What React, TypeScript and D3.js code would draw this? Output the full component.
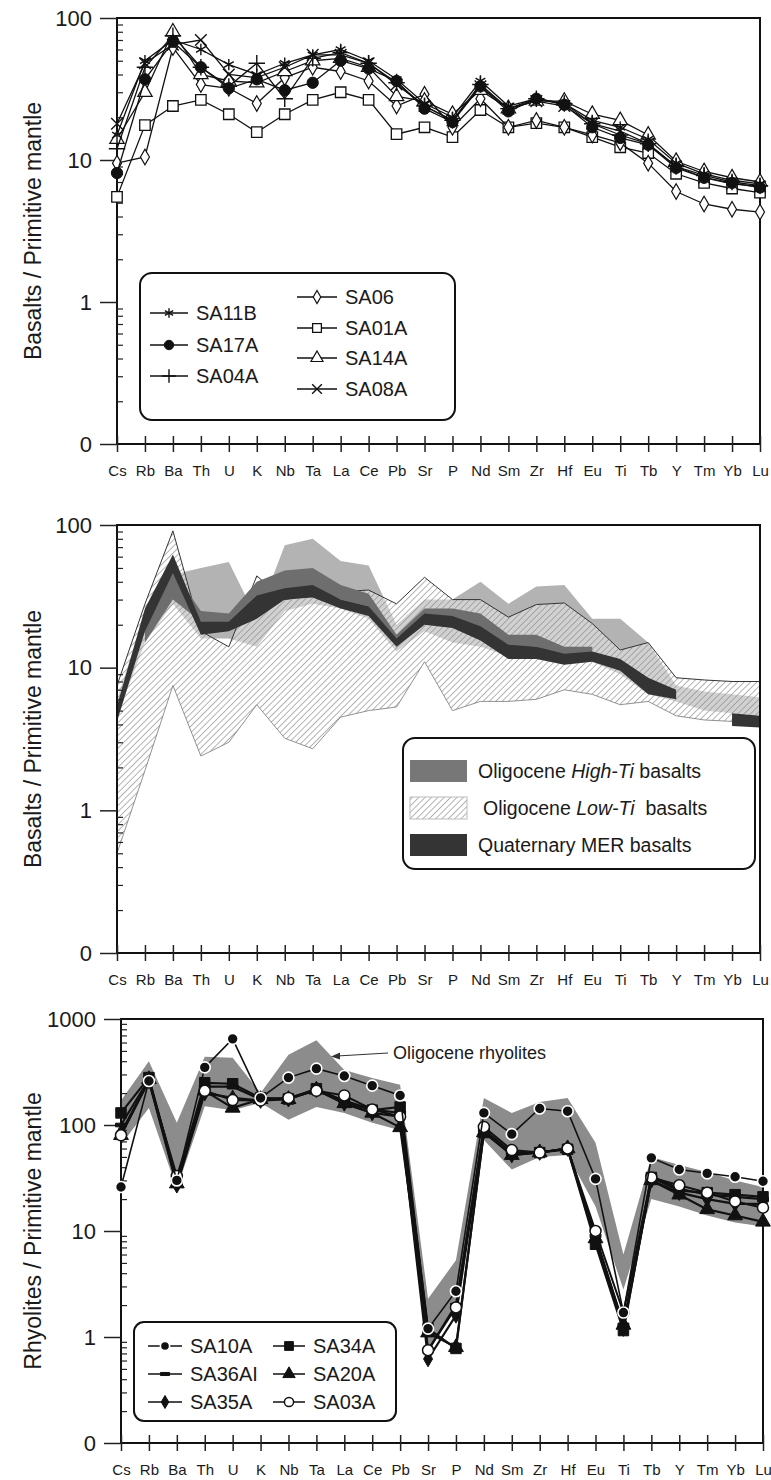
import React, { useEffect, useRef } from 'react';
import * as d3 from 'd3';

const FONT = "'Liberation Sans', Arial, Helvetica, sans-serif";

const elements = ['Cs', 'Rb', 'Ba', 'Th', 'U', 'K', 'Nb', 'Ta', 'La', 'Ce', 'Pb', 'Sr', 'P', 'Nd', 'Sm', 'Zr', 'Hf', 'Eu', 'Ti', 'Tb', 'Y', 'Tm', 'Yb', 'Lu'];

// ---- panel 1 : basalts ----
const sa11b = [15, 50, 70, 60, 47, 40, 48, 55, 60, 50, 37, 25, 20, 36, 24, 27, 25, 19, 17, 14, 9.5, 8, 7.2, 6.8];
const sa17a = [8.1, 37, 68, 45, 32, 37, 31, 35, 50, 44, 36, 23, 18.5, 33, 22, 27, 24.5, 17, 14.3, 12.8, 8.8, 7.5, 6.9, 6.4];
const sa04a = [12, 45, 75, 45, 33, 48, 27, 52, 57, 48, 35, 24, 19, 34, 23, 27, 25, 18, 15, 13, 9, 7.8, 7, 6.6];
const sa06 = [9.5, 10.5, 62, 34, 32, 25, 38, 45, 42, 36, 24, 29, 17, 27, 17, 19, 17, 15, 13.2, 9.5, 6, 4.9, 4.5, 4.3];
const sa01a = [5.5, 17.6, 24, 26.5, 21, 15.7, 21, 26.5, 30, 26.5, 15.2, 17, 14.5, 22.5, 17, 18.2, 17, 14.5, 12.3, 11.2, 8, 6.9, 6.3, 5.9];
const sa14a = [14, 30, 80, 40, 36, 35, 42, 50, 52, 45, 28, 26, 21, 31, 23, 26, 26, 21, 19, 15, 9.8, 8.3, 7.5, 7.0];
const sa08a = [18, 48, 65, 70, 40, 38, 45, 55, 55, 48, 34, 24, 19, 33, 23, 26, 24, 18, 16, 13, 9, 7.5, 6.8, 6.5];

// ---- panel 2 : fields ----
const lowTiTop = [7.5, 28, 91, 18, 14, 44, 30, 32, 34, 35, 28, 43, 30, 30, 22.6, 27.7, 28.4, 20.4, 13.3, 15, 8.5, 8.2, 8, 8];
const lowTiBottom = [0.5, 1.9, 7.5, 2.4, 3, 5.5, 3.2, 2.7, 4.5, 5, 5.3, 11, 5, 5.8, 5.8, 6, 7, 6.5, 5.5, 5.8, 4.6, 4.3, 4.2, 4.1];
const hiTiTop = [6, 24, 45, 50, 55, 22, 72, 80, 56, 52, 20, 30, 30, 40, 28, 37, 38, 22, 22, 15, 7.5, 6.8, 6.5, 6.2];
const hiTiBottom = [4.5, 15, 28, 16, 16, 14, 25, 28, 26, 22, 13, 18, 15, 14, 12, 13, 12, 11, 9, 6.5, 5.8, 5, 4.8, 4.6];
const hiCoreTop = [null, 22, 48, 25, 24, 40, 48, 50, 38, 33, 17, 26, 26, 24, 17, 17, 14, 14, null, null, null, null, null, null];
const hiCoreBottom = [null, 15, 30, 21, 20, 26, 34, 36, 30, 27, 15, 22, 22, 19, 14, 14, 12, 12, null, null, null, null, null, null];
const merTop = [5.4, 26, 62, 21, 21, 32, 36, 38, 30, 27, 16, 24, 23, 19.5, 14.5, 14, 12.5, 13, 11.5, 8.5, 7, null, 4.8, 4.6];
const merBottom = [4.2, 18, 46, 17, 18, 22, 30, 31, 26, 23, 14, 20, 19, 15.5, 11.5, 11.5, 10.5, 11, 9.5, 6.5, 6, null, 3.9, 3.8];

// ---- panel 3 : rhyolites ----
const sa10a = [26, 260, 30, 350, 650, 180, 280, 340, 290, 235, 190, 1.2, 2.7, 130, 82, 143, 135, 31, 1.7, 49, 38, 35, 32.5, 29.5];
const sa36ai = [100, 270, 30, 230, 230, 175, 180, 215, 170, 140, 130, 0.75, 2.0, 90, 55, 55, 60, 9, 1.3, 33, 25, 22, 21, 20];
const sa35a = [85, 260, 27, 200, 180, 170, 175, 215, 160, 130, 120, 0.62, 1.6, 88, 52, 55, 60, 8, 1.2, 30, 23, 20, 18, 18];
const sa34a = [130, 280, 30, 250, 245, 180, 176, 220, 165, 138, 148, 1.2, 0.78, 85, 55, 55, 59, 7.5, 1.15, 32, 24, 23, 22, 21];
const sa20a = [80, 270, 28, 210, 145, 175, 175, 215, 160, 130, 95, 1.1, 0.8, 85, 52, 55, 60, 8.5, 1.3, 30, 22, 16, 14, 12.2];
const sa03a = [80, 260, 33, 210, 172, 170, 180, 210, 190, 140, 120, 0.75, 1.9, 96, 58, 55, 60, 10, 1.7, 32, 27, 23, 19, 16.6];
const rhyTop = [170, 400, 105, 440, 430, 200, 460, 630, 330, 277, 240, 2.3, 5.3, 180, 130, 165, 180, 68, 6, 50, 42, 36, 30, 26];
const rhyBottom = [65, 145, 25, 150, 138, 162, 112, 148, 130, 105, 89, 0.7, 2.0, 72, 38, 50, 52, 17, 2.8, 20, 17, 14, 12, 11];

const barSymbol = {
  draw(ctx, size) {
    const w = Math.sqrt(size) * 1.3;
    ctx.rect(-w / 2, -w / 6, w, w / 3);
  },
};

const drawAxes = (g, x, y, majors, title) => {
  const [x0, x1] = x.range();
  const [yb, yt] = y.range();

  g.append('rect')
    .attr('x', x0)
    .attr('y', yt)
    .attr('width', x1 - x0)
    .attr('height', yb - yt)
    .attr('fill', 'none')
    .attr('stroke', '#111')
    .attr('stroke-width', 2);

  const minors = [];
  for (let k = 0; k < majors.length - 1; k++) {
    for (let m = 2; m <= 9; m++) minors.push(majors[k] * m);
  }
  const minorAxis = g
    .append('g')
    .attr('transform', `translate(${x0},0)`)
    .call(d3.axisLeft(y).tickValues(minors).tickSize(-6).tickSizeOuter(0).tickFormat(() => ''));
  minorAxis.select('.domain').remove();
  minorAxis.selectAll('line').attr('stroke', '#222').attr('stroke-width', 1.2);

  const majorAxis = g
    .append('g')
    .attr('transform', `translate(${x0},0)`)
    .call(
      d3
        .axisLeft(y)
        .tickValues(majors)
        .tickSize(17)
        .tickSizeOuter(0)
        .tickPadding(8)
        .tickFormat(d => (d < 1 ? '0' : String(d))),
    );
  majorAxis.select('.domain').remove();
  majorAxis.selectAll('line').attr('stroke', '#222').attr('stroke-width', 1.5);
  majorAxis
    .selectAll('text')
    .attr('font-family', FONT)
    .attr('font-size', 22)
    .attr('fill', '#1a1a1a');

  const xAxis = g
    .append('g')
    .attr('transform', `translate(0,${yb})`)
    .call(d3.axisBottom(x).tickSize(8).tickSizeOuter(0));
  xAxis.select('.domain').remove();
  xAxis.selectAll('line').attr('y1', -8).attr('stroke', '#222').attr('stroke-width', 1.5);
  xAxis
    .selectAll('text')
    .attr('y', 21)
    .attr('font-family', FONT)
    .attr('font-size', 15)
    .attr('fill', '#1a1a1a');

  g.append('text')
    .attr('transform', `translate(33,${(yb + yt) / 2}) rotate(-90)`)
    .attr('text-anchor', 'middle')
    .attr('dominant-baseline', 'central')
    .attr('font-family', FONT)
    .attr('font-size', 23)
    .attr('fill', '#1a1a1a')
    .text(title);
};

const drawSeries = (g, x, y, values, mk) => {
  const line = d3
    .line()
    .x((d, i) => x(elements[i]))
    .y(d => y(d));
  g.append('path')
    .attr('d', line(values))
    .attr('fill', 'none')
    .attr('stroke', '#111')
    .attr('stroke-width', mk.lw);
  g.selectAll(null)
    .data(values)
    .enter()
    .append('path')
    .attr('transform', (d, i) => `translate(${x(elements[i])},${y(d)})`)
    .attr('d', d3.symbol().type(mk.type).size(mk.size)())
    .attr('fill', mk.fill)
    .attr('stroke', mk.stroke)
    .attr('stroke-width', mk.sw);
};

const legendEntry = (g, x1, x2, y, label, mk, fontSize) => {
  g.append('line')
    .attr('x1', x1)
    .attr('x2', x2)
    .attr('y1', y)
    .attr('y2', y)
    .attr('stroke', '#111')
    .attr('stroke-width', 1.5);
  g.append('path')
    .attr('transform', `translate(${(x1 + x2) / 2},${y})`)
    .attr('d', d3.symbol().type(mk.type).size(mk.size * 0.7)())
    .attr('fill', mk.fill)
    .attr('stroke', mk.stroke)
    .attr('stroke-width', mk.sw);
  g.append('text')
    .attr('x', x2 + 8)
    .attr('y', y)
    .attr('dominant-baseline', 'central')
    .attr('font-family', FONT)
    .attr('font-size', fontSize)
    .attr('fill', '#1a1a1a')
    .text(label);
};

const App = () => {
  const ref = useRef(null);

  useEffect(() => {
    const svg = d3.select(ref.current);
    svg.selectAll('*').remove();

    const defs = svg.append('defs');
    const hatch = defs
      .append('pattern')
      .attr('id', 'hatch')
      .attr('patternUnits', 'userSpaceOnUse')
      .attr('width', 4.5)
      .attr('height', 4.5)
      .attr('patternTransform', 'rotate(45)');
    hatch.append('rect').attr('width', 4.5).attr('height', 4.5).attr('fill', '#fff').attr('fill-opacity', 0.4);
    hatch.append('line').attr('x1', 0).attr('y1', 0).attr('x2', 0).attr('y2', 4.5).attr('stroke', '#8a8a8a').attr('stroke-width', 1.3);

    // ---------------- panel 1 ----------------
    const x1 = d3.scalePoint().domain(elements).range([117, 760]);
    const y1 = d3.scaleLog().domain([0.1, 100]).range([444, 18]);
    const g1 = svg.append('g');
    drawAxes(g1, x1, y1, [0.1, 1, 10, 100], 'Basalts / Primitive mantle');

    const mk1 = {
      SA11B: { type: d3.symbolAsterisk, size: 90, fill: 'none', stroke: '#111', sw: 1.4, lw: 1.3 },
      SA17A: { type: d3.symbolCircle, size: 100, fill: '#111', stroke: '#111', sw: 1, lw: 1.3 },
      SA04A: { type: d3.symbolPlus, size: 90, fill: 'none', stroke: '#111', sw: 1.4, lw: 1.3 },
      SA06: { type: d3.symbolDiamond, size: 70, fill: '#fff', stroke: '#111', sw: 1.2, lw: 1.3 },
      SA01A: { type: d3.symbolSquare, size: 110, fill: '#fff', stroke: '#111', sw: 1.3, lw: 1.3 },
      SA14A: { type: d3.symbolTriangle, size: 90, fill: '#fff', stroke: '#111', sw: 1.2, lw: 1.3 },
      SA08A: { type: d3.symbolTimes, size: 90, fill: 'none', stroke: '#111', sw: 1.4, lw: 1.3 },
    };
    drawSeries(g1, x1, y1, sa01a, mk1.SA01A);
    drawSeries(g1, x1, y1, sa06, mk1.SA06);
    drawSeries(g1, x1, y1, sa14a, mk1.SA14A);
    drawSeries(g1, x1, y1, sa08a, mk1.SA08A);
    drawSeries(g1, x1, y1, sa04a, mk1.SA04A);
    drawSeries(g1, x1, y1, sa11b, mk1.SA11B);
    drawSeries(g1, x1, y1, sa17a, mk1.SA17A);

    g1.append('rect')
      .attr('x', 140)
      .attr('y', 273)
      .attr('width', 315)
      .attr('height', 147)
      .attr('rx', 12)
      .attr('fill', '#fff')
      .attr('stroke', '#111')
      .attr('stroke-width', 2);
    legendEntry(g1, 150, 188, 313, 'SA11B', mk1.SA11B, 20);
    legendEntry(g1, 150, 188, 345, 'SA17A', mk1.SA17A, 20);
    legendEntry(g1, 150, 188, 376, 'SA04A', mk1.SA04A, 20);
    legendEntry(g1, 297, 337, 297, 'SA06', mk1.SA06, 20);
    legendEntry(g1, 297, 337, 328, 'SA01A', mk1.SA01A, 20);
    legendEntry(g1, 297, 337, 358, 'SA14A', mk1.SA14A, 20);
    legendEntry(g1, 297, 337, 389, 'SA08A', mk1.SA08A, 20);

    // ---------------- panel 2 ----------------
    const x2 = d3.scalePoint().domain(elements).range([117, 760]);
    const y2 = d3.scaleLog().domain([0.1, 100]).range([953, 525]);
    const g2 = svg.append('g');

    const band = (top, bottom) =>
      d3
        .area()
        .defined((d, i) => top[i] != null && bottom[i] != null)
        .x((d, i) => x2(elements[i]))
        .y0((d, i) => y2(bottom[i]))
        .y1((d, i) => y2(top[i]))(elements);
    const edge = vals =>
      d3
        .line()
        .x((d, i) => x2(elements[i]))
        .y(d => y2(d))(vals);

    g2.append('path').attr('d', band(hiTiTop, hiTiBottom)).attr('fill', '#b3b3b3');
    g2.append('path').attr('d', band(lowTiTop, lowTiBottom)).attr('fill', 'url(#hatch)');
    g2.append('path').attr('d', edge(lowTiTop)).attr('fill', 'none').attr('stroke', '#333').attr('stroke-width', 1);
    g2.append('path').attr('d', edge(lowTiBottom)).attr('fill', 'none').attr('stroke', '#777').attr('stroke-width', 0.8);
    g2.append('path').attr('d', band(hiCoreTop, hiCoreBottom)).attr('fill', '#6e6e6e');
    g2.append('path').attr('d', band(merTop, merBottom)).attr('fill', '#343434');
    drawAxes(g2, x2, y2, [0.1, 1, 10, 100], 'Basalts / Primitive mantle');

    g2.append('rect')
      .attr('x', 403)
      .attr('y', 738)
      .attr('width', 352)
      .attr('height', 131)
      .attr('rx', 12)
      .attr('fill', '#fff')
      .attr('stroke', '#111')
      .attr('stroke-width', 2);
    const sw2 = [
      { y: 771, fill: '#777', pre: 'Oligocene ', it: 'High-Ti', post: ' basalts', tx: 478 },
      { y: 808, fill: 'url(#hatch)', pre: 'Oligocene ', it: 'Low-Ti', post: '  basalts', tx: 483 },
      { y: 845, fill: '#343434', pre: 'Quaternary MER basalts', it: '', post: '', tx: 478 },
    ];
    sw2.forEach(s => {
      g2.append('rect')
        .attr('x', 410)
        .attr('y', s.y - 11)
        .attr('width', 57)
        .attr('height', 22)
        .attr('fill', s.fill)
        .attr('stroke', s.fill === 'url(#hatch)' ? '#bbb' : 'none');
      const t = g2
        .append('text')
        .attr('x', s.tx)
        .attr('y', s.y)
        .attr('dominant-baseline', 'central')
        .attr('font-family', FONT)
        .attr('font-size', 19.5)
        .attr('fill', '#1a1a1a')
        .attr('xml:space', 'preserve');
      t.append('tspan').text(s.pre);
      if (s.it) t.append('tspan').attr('font-style', 'italic').text(s.it);
      if (s.post) t.append('tspan').text(s.post);
    });

    // ---------------- panel 3 ----------------
    const x3 = d3.scalePoint().domain(elements).range([121, 763]);
    const y3 = d3.scaleLog().domain([0.1, 1000]).range([1443, 1019]);
    const g3 = svg.append('g');

    g3.append('path')
      .attr(
        'd',
        d3
          .area()
          .x((d, i) => x3(elements[i]))
          .y0((d, i) => y3(rhyBottom[i]))
          .y1((d, i) => y3(rhyTop[i]))(elements),
      )
      .attr('fill', '#8c8c8c');
    drawAxes(g3, x3, y3, [0.1, 1, 10, 100, 1000], 'Rhyolites / Primitive mantle');

    const mk3 = {
      SA10A: { type: d3.symbolCircle, size: 95, fill: '#111', stroke: '#fff', sw: 1.6, lw: 1.6 },
      SA36AI: { type: barSymbol, size: 70, fill: '#111', stroke: '#111', sw: 1, lw: 2.2 },
      SA35A: { type: d3.symbolDiamond, size: 70, fill: '#111', stroke: '#111', sw: 1, lw: 2.2 },
      SA34A: { type: d3.symbolSquare, size: 110, fill: '#111', stroke: '#111', sw: 1, lw: 2.2 },
      SA20A: { type: d3.symbolTriangle, size: 95, fill: '#111', stroke: '#111', sw: 1, lw: 2.2 },
      SA03A: { type: d3.symbolCircle, size: 95, fill: '#fff', stroke: '#111', sw: 1.5, lw: 2 },
    };
    drawSeries(g3, x3, y3, sa35a, mk3.SA35A);
    drawSeries(g3, x3, y3, sa20a, mk3.SA20A);
    drawSeries(g3, x3, y3, sa36ai, mk3.SA36AI);
    drawSeries(g3, x3, y3, sa34a, mk3.SA34A);
    drawSeries(g3, x3, y3, sa03a, mk3.SA03A);
    drawSeries(g3, x3, y3, sa10a, mk3.SA10A);

    // label + arrow for the rhyolite field
    g3.append('line')
      .attr('x1', 388)
      .attr('y1', 1053)
      .attr('x2', 337)
      .attr('y2', 1056)
      .attr('stroke', '#333')
      .attr('stroke-width', 1.2);
    g3.append('path').attr('d', 'M331,1056.5 L340,1052.5 L340,1059.5 Z').attr('fill', '#333');
    g3.append('text')
      .attr('x', 393)
      .attr('y', 1053)
      .attr('dominant-baseline', 'central')
      .attr('font-family', FONT)
      .attr('font-size', 18)
      .attr('fill', '#1a1a1a')
      .text('Oligocene rhyolites');

    g3.append('rect')
      .attr('x', 134)
      .attr('y', 1322)
      .attr('width', 262)
      .attr('height', 99)
      .attr('rx', 10)
      .attr('fill', '#fff')
      .attr('stroke', '#111')
      .attr('stroke-width', 2);
    legendEntry(g3, 148, 182, 1346, 'SA10A', mk3.SA10A, 20);
    legendEntry(g3, 148, 182, 1374, 'SA36AI', mk3.SA36AI, 20);
    legendEntry(g3, 148, 182, 1402, 'SA35A', mk3.SA35A, 20);
    legendEntry(g3, 273, 305, 1346, 'SA34A', mk3.SA34A, 20);
    legendEntry(g3, 273, 305, 1374, 'SA20A', mk3.SA20A, 20);
    legendEntry(g3, 273, 305, 1402, 'SA03A', mk3.SA03A, 20);
  }, []);

  return (
    <svg
      ref={ref}
      width={771}
      height={1480}
      style={{ position: 'absolute', left: 0, top: 0, background: '#fff' }}
    />
  );
};

export default App;
